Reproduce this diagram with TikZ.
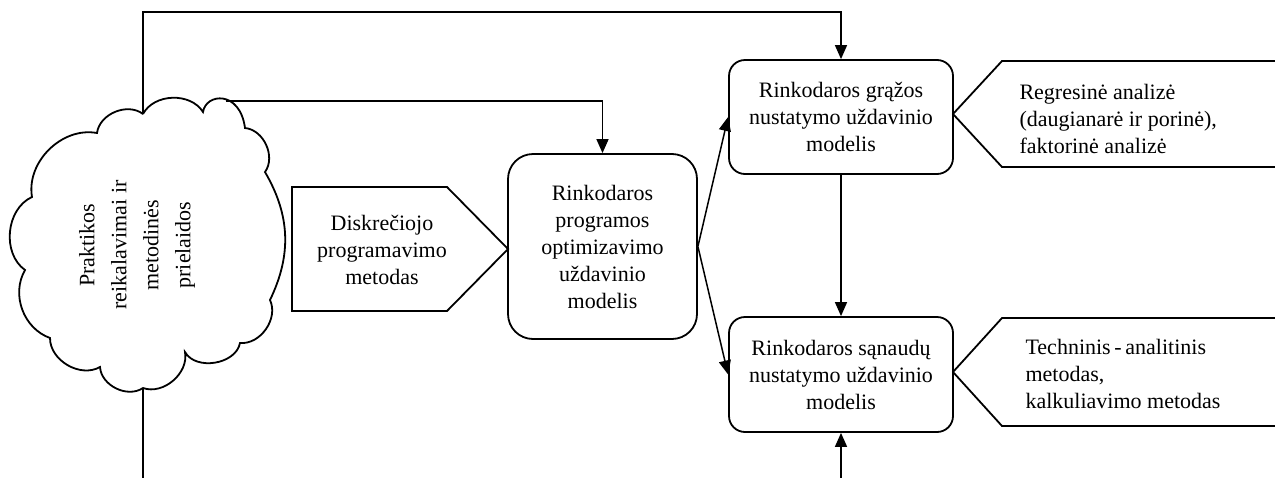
\documentclass[tikz,border=0pt]{standalone}
\usepackage{fontspec}
\setmainfont{Liberation Serif}
\usetikzlibrary{arrows.meta}
\begin{document}
\begin{tikzpicture}[x=1pt,y=-1pt,
  txt/.style={font=\fontsize{22}{27}\selectfont},
  rbox/.style={draw,line width=1.8pt,rounded corners=16pt,align=center,txt,inner sep=0pt},
  pent/.style={draw,line width=1.8pt,line join=miter},
  cloudline/.style={draw,line width=1.8pt},
  conn/.style={line width=1.5pt},
  arr/.style={conn,-{Triangle[length=14pt,width=12pt]}}]
\useasboundingbox (0,0) rectangle (1275,477);
% cloud outline
\coordinate (v1) at (143,114);
\coordinate (v2) at (203,112);
\coordinate (v3) at (245,128);
\coordinate (v4) at (265,172);
\coordinate (v5) at (270,300);
\coordinate (v6) at (240,343);
\coordinate (v7) at (185,352);
\coordinate (v8) at (143,388);
\coordinate (v9) at (100,367);
\coordinate (v10) at (50,338);
\coordinate (v11) at (25,270);
\coordinate (v12) at (32,197);
\coordinate (v13) at (97,133);
\draw[cloudline] (v1) to[bend left=60] (v2) .. controls (206,93) and (240,90) .. (v3) to[bend left=60] (v4)
  to[bend left=28] (v5) to[bend left=60] (v6) to[bend left=70] (v7) to[bend left=60] (v8)
  to[bend left=60] (v9) to[bend left=60] (v10) to[bend left=50] (v11) to[bend left=60] (v12)
  to[bend left=55] (v13) to[bend left=60] (v1);
\node[rotate=90,align=center,font=\fontsize{22}{32}\selectfont] (cloud) at (137,245)
  {Praktikos\\reikalavimai ir\\metodinės\\prielaidos};
\coordinate (cp) at (226,101);
% boxes
\node[rbox,rounded corners=25pt,minimum width=189pt,minimum height=185pt] (opt) at (602.5,246.5)
  {Rinkodaros\\programos\\optimizavimo\\uždavinio\\modelis};
\node[rbox,minimum width=224pt,minimum height=114pt] (ret) at (841,117)
  {Rinkodaros grąžos\\nustatymo uždavinio\\modelis};
\node[rbox,minimum width=224pt,minimum height=115pt] (cost) at (841,374.5)
  {Rinkodaros sąnaudų\\nustatymo uždavinio\\modelis};
% pentagons
\draw[pent] (292,187) -- (447,187) -- (508,249) -- (447,311) -- (292,311) -- cycle;
\node[txt,align=center] (disc) at (382,250) {Diskrečiojo\\programavimo\\metodas};
\draw[pent] (1276,61) -- (1002,61) -- (953,114) -- (1002,167) -- (1276,167);
\node[txt,align=left,anchor=west] (reg) at (1016,119) {Regresinė analizė\\(daugianarė ir porinė),\\faktorinė analizė};
\draw[pent] (1276,318) -- (1002,318) -- (953,372) -- (1002,426) -- (1276,426);
\node[txt,align=left,anchor=west] (tech) at (1022,374) {Techninis\,-\,analitinis\\metodas,\\kalkuliavimo metodas};
% connectors
\coordinate (top) at (143,12);
\coordinate (b1) at (143,478);
\coordinate (b2) at (841,478);
\draw[arr] (v1) -- (top) -| (ret.north);
\draw[arr] (cp) -| (opt.north);
\draw[conn] (v8) -- (b1);
\draw[arr] (b2) -- (cost.south);
\draw[arr] (ret.south) -- (cost.north);
\draw[arr] (opt.east) -- (ret.west);
\draw[arr] (opt.east) -- (cost.west);
\end{tikzpicture}
\end{document}
